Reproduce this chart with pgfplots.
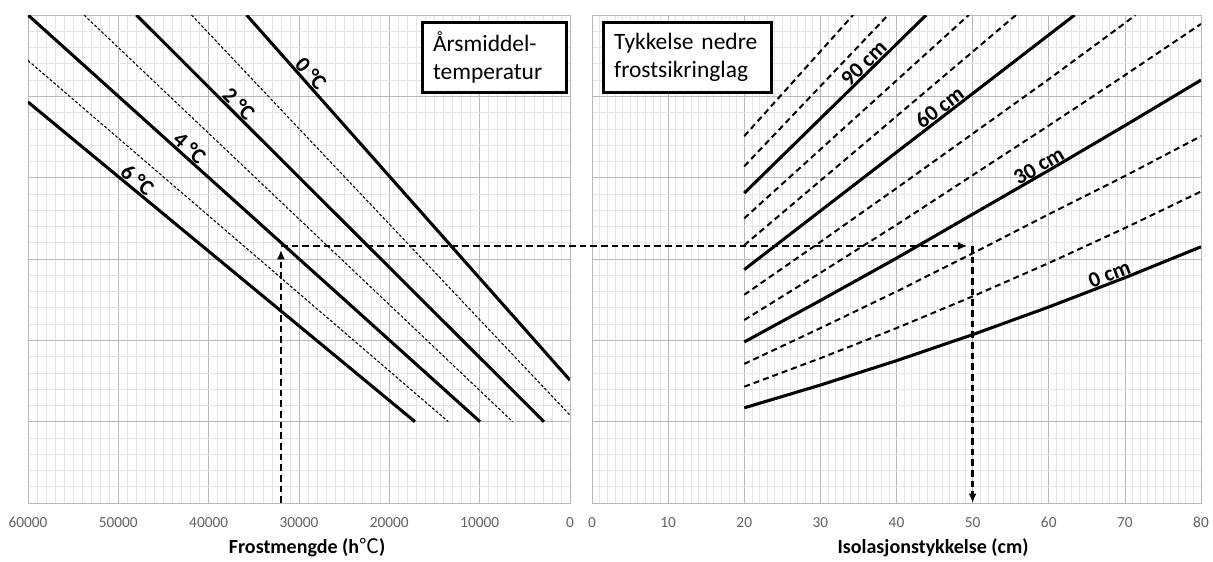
\documentclass[border=0pt]{standalone}
\usepackage{pgfplots}
\pgfplotsset{compat=1.18}
\usepackage{fontspec}
\setmainfont{Carlito}
\newfontfamily\cjk{Noto Sans CJK JP}
\usetikzlibrary{arrows.meta}

\pgfplotsset{
  diagram/.style={
    scale only axis,
    height=366pt,
    ymin=0, ymax=6,
    ytick={0,1,...,6}, yticklabels={},
    minor y tick num=4,
    minor x tick num=9,
    grid=both,
    major grid style={draw=black!28, line width=0.5pt},
    minor grid style={draw=black!10, line width=0.5pt},
    axis line style={draw=black!28, line width=0.5pt},
    tick style={draw=none},
    xticklabel style={font=\fontsize{11.5}{13}\selectfont, text=black!62, anchor=base, yshift=-18pt},
    /pgf/number format/assume math mode=true,
    /pgf/number format/1000 sep={},
    scaled x ticks=false,
  },
  tyk/.style={black, line width=2.3pt},
  tynn/.style={black, line width=0.8pt, dash pattern=on 2.2pt off 1.4pt},
  stiplet/.style={black, line width=1.5pt, dash pattern=on 4.5pt off 3pt},
  usynlig/.style={draw=none},
}
\tikzset{
  etikett/.style={font=\bfseries\fontsize{16.5}{18}\selectfont, sloped, above, inner sep=1.2pt},
  boks/.style={draw=black, line width=2.2pt, fill=white, align=left,
    font=\fontsize{17.6}{21}\selectfont, inner xsep=8pt, inner ysep=4pt,
    minimum height=52.5pt, anchor=north west},
  pil/.style={black, line width=1.9pt, dash pattern=on 5pt off 3pt},
}

\begin{document}
\begin{tikzpicture}
\useasboundingbox (0,0) rectangle (909.75pt,420.75pt);

% venstre: frostmengde
\begin{axis}[diagram,
  at={(21pt,43.5pt)}, anchor=south west, width=406.5pt,
  x dir=reverse, xmin=0, xmax=60000, xtick={0,10000,...,60000},
  xlabel={Frostmengde (h{\cjk\mdseries ℃})},
  xlabel style={font=\bfseries\fontsize{15}{18}\selectfont, at={(axis description cs:0.515,0)}, anchor=center, yshift=-33.75pt}]
\addplot[tyk] coordinates {(35800,6) (0,1.51)};
\addplot[tynn] coordinates {(41900,6) (0,1.08)};
\addplot[tyk] coordinates {(48000,6) (2880,1)};
\addplot[tynn] coordinates {(53800,6) (6350,1)};
\addplot[tyk] coordinates {(60000,6) (9960,1)};
\addplot[tynn] coordinates {(60000,5.44) (13470,1)};
\addplot[tyk] coordinates {(60000,4.93) (17160,1)};
% etiketter
\addplot[usynlig] coordinates {(31200,5.423) (27700,4.984)} node[etikett, midway] {0 °C};
\addplot[usynlig] coordinates {(39100,5.014) (35700,4.637)} node[etikett, midway] {2 °C};
\addplot[usynlig] coordinates {(44600,4.461) (41000,4.101)} node[etikett, midway] {4 °C};
\addplot[usynlig] coordinates {(50300,4.040) (46800,3.719)} node[etikett, midway] {6 °C};
\node[boks, text width=92pt] at (axis description cs:0.725,0.988) {Årsmiddel-\\temperatur};
\coordinate (P1) at (axis cs:32000,0);
\coordinate (P2) at (axis cs:32000,3.16);
\end{axis}

% høyre: isolasjonstykkelse
\begin{axis}[diagram,
  at={(444pt,43.5pt)}, anchor=south west, width=456.75pt,
  xmin=0, xmax=80, xtick={0,10,...,80},
  xlabel={Isolasjonstykkelse (cm)},
  xlabel style={font=\bfseries\fontsize{15}{18}\selectfont, at={(axis description cs:0.56,0)}, anchor=center, yshift=-33.75pt}]
\addplot[tyk] coordinates {(20,1.17) (30,1.45) (40,1.75) (50,2.07) (60,2.41) (70,2.77) (80,3.15)};
\addplot[stiplet] coordinates {(20,1.43) (30,1.78) (40,2.15) (50,2.54) (60,2.95) (70,3.38) (80,3.83)};
\addplot[stiplet] coordinates {(20,1.71) (30,2.15) (40,2.60) (50,3.07) (60,3.55) (70,4.02) (80,4.51)};
\addplot[tyk] coordinates {(20,1.98) (30,2.49) (40,3.01) (50,3.55) (60,4.09) (70,4.64) (80,5.20)};
\addplot[stiplet] coordinates {(20,2.25) (30,2.83) (40,3.42) (50,4.03) (60,4.64) (70,5.26) (80,5.89)};
\addplot[stiplet] coordinates {(20,2.56) (30,3.21) (40,3.87) (50,4.54) (60,5.21) (70,5.90) (71.4,6)};
\addplot[tyk] coordinates {(20,2.87) (63.4,6)};
\addplot[stiplet] coordinates {(20,3.17) (55.7,6)};
\addplot[stiplet] coordinates {(20,3.50) (49.5,6)};
\addplot[tyk] coordinates {(20,3.81) (43.9,6)};
\addplot[stiplet] coordinates {(20,4.14) (38.9,6)};
\addplot[stiplet] coordinates {(20,4.51) (34.3,6)};
% etiketter
\addplot[usynlig] coordinates {(34.6,5.148) (38.4,5.496)} node[etikett, midway] {90 cm};
\addplot[usynlig] coordinates {(44.1,4.608) (48.7,4.940)} node[etikett, midway] {60 cm};
\addplot[usynlig] coordinates {(57.1,3.929) (61.5,4.169)} node[etikett, midway] {30 cm};
\addplot[usynlig] coordinates {(66.5,2.644) (70.3,2.781)} node[etikett, midway] {0 cm};
\node[boks, text width=110pt] at (axis description cs:0.0164,0.988) {Tykkelse nedre\\frostsikringlag};
\coordinate (Q1) at (axis cs:50,3.16);
\coordinate (Q2) at (axis cs:50,0);
\end{axis}

% avlesningspiler
\draw[pil, -{Latex[length=7pt,width=6pt]}] (P1) -- ([yshift=-3pt]P2);
\draw[pil, -{Latex[length=7pt,width=6pt]}] (P2) -- ([xshift=-4pt]Q1);
\draw[pil, -{Latex[length=7pt,width=6pt]}] (Q1) -- (Q2);
\end{tikzpicture}
\end{document}
